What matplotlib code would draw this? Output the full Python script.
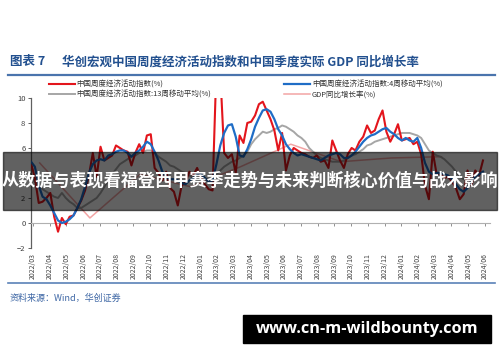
import numpy as np
import pandas as pd
import matplotlib
matplotlib.use("Agg")
import matplotlib.pyplot as plt
from matplotlib.patches import Rectangle
from matplotlib.lines import Line2D

plt.rcParams['font.family'] = ['Noto Sans CJK SC', 'DejaVu Sans']

# monthly category labels of the x axis
month_labels = list(pd.period_range("2022-03", "2024-06", freq="M").strftime("%Y/%m"))

# weekly China economic activity index (%)
activity = [
    4.8, 3.6, 1.6, 1.7, 2.0, 2.4, 0.5, -0.7, 0.4, -0.1,
    0.5, 0.6, 1.2, 1.8, 2.6, 3.8, 5.6, 3.7, 6.1, 5.0,
    5.2, 5.4, 6.2, 6.0, 5.8, 5.7, 4.6, 5.6, 6.3, 5.6,
    7.0, 7.1, 4.4, 4.0, 3.4, 4.1, 2.8, 2.5, 1.4, 3.0,
    3.3, 4.1, 3.8, 4.4, 3.6, 3.1, 2.7, 2.6, 12.5, 12.0,
    5.6, 5.2, 5.5, 4.0, 7.0, 6.4, 8.0, 8.1, 8.6, 9.5,
    9.7, 9.0, 8.3, 7.4, 5.8, 7.2, 4.2, 5.4, 6.0, 5.8,
    5.6, 5.5, 5.3, 5.2, 5.4, 4.9, 5.0, 4.4, 6.6, 5.8,
    5.0, 4.4, 5.5, 6.0, 5.8, 6.5, 6.9, 7.8, 7.2, 7.4,
    8.3, 9.0, 7.3, 6.5, 7.1, 7.9, 6.6, 6.7, 6.8, 6.3,
    6.5, 5.5, 3.0, 1.9, 5.7, 3.9, 4.0, 3.6, 3.7, 3.3,
    2.8, 1.9, 2.3, 4.2, 3.0, 4.2, 3.8, 5.0,
]

# 4-week moving average (%)
activity_ma4 = [
    4.9, 4.5, 3.0, 2.1, 1.9, 1.4, 0.8, 0.2, 0.0, 0.1,
    0.3, 0.6, 1.2, 1.9, 2.9, 4.0, 4.7, 5.0, 5.1, 5.0,
    5.4, 5.5, 5.7, 5.8, 5.8, 5.6, 5.3, 5.6, 5.8, 6.1,
    6.5, 6.3, 5.7, 5.0, 4.1, 3.7, 3.5, 3.5, 3.4, 3.2,
    3.1, 3.4, 3.6, 3.9, 3.9, 3.6, 3.3, 3.4, 4.7, 6.2,
    7.2, 7.8, 7.9, 6.9, 5.4, 5.3, 5.9, 6.7, 7.7, 8.4,
    9.0, 9.1, 8.9, 8.3, 7.5, 7.0, 6.3, 5.9, 5.6, 5.4,
    5.5, 5.4, 5.3, 5.2, 5.1, 5.0, 5.2, 5.4, 5.5, 5.6,
    5.5, 5.2, 5.2, 5.4, 5.7, 6.1, 6.5, 6.8, 7.0, 7.1,
    7.3, 7.5, 7.6, 7.3, 7.1, 6.8, 6.6, 6.8, 6.6, 6.5,
    6.8, 6.0, 4.8, 4.1, 3.9, 4.0, 4.0, 3.9, 3.8, 3.5,
    3.1, 2.7, 2.5, 2.8, 3.4, 3.7, 3.9, 4.1,
]

# 13-week moving average (%)
activity_ma13 = [
    3.6, 3.3, 3.0, 2.7, 2.5, 2.3, 2.1, 2.0, 2.4, 2.0,
    1.7, 1.5, 1.2, 1.2, 1.4, 1.6, 1.8, 2.0, 2.4, 2.9,
    3.4, 3.9, 4.3, 4.7, 4.9, 5.1, 5.3, 5.4, 5.6, 5.7,
    5.8, 5.8, 5.6, 5.3, 5.1, 4.9, 4.6, 4.5, 4.3, 4.1,
    4.0, 3.8, 3.6, 3.5, 3.5, 3.5, 3.5, 3.6, 3.9, 4.2,
    4.5, 4.7, 4.9, 5.0, 5.2, 5.4, 5.7, 6.3, 6.7, 7.0,
    7.3, 7.2, 7.3, 7.5, 7.6, 7.8, 7.7, 7.5, 7.3, 7.0,
    6.8, 6.5, 6.0, 5.7, 5.4, 5.2, 5.1, 5.0, 4.9, 4.9,
    4.9, 5.0, 5.2, 5.4, 5.5, 5.7, 5.9, 6.2, 6.3, 6.5,
    6.6, 6.7, 6.8, 6.9, 7.0, 7.1, 7.2, 7.2, 7.2, 7.1,
    7.0, 6.8, 6.3, 5.8, 5.6, 5.4, 5.3, 5.1, 4.8, 4.5,
    4.1, 3.7, 3.5, 3.4, 3.5, 3.8, 4.0, 4.1,
]

# quarterly real GDP growth (%), 2022Q1 .. 2024Q1
gdp_yoy = [4.8, 0.4, 3.9, 2.9, 4.5, 6.3, 4.9, 5.2, 5.3]


def main():
    # x in months counted from 2022/03
    weeks = np.arange(len(activity)) * 12 / 52 - 0.12
    quarters = np.arange(len(gdp_yoy)) * 3 + 0.4

    fig = plt.figure(figsize=(5, 3.62), dpi=100)
    ax = fig.add_axes([0.062, 0.315, 0.918, 0.4144])

    l_gdp, = ax.plot(quarters, gdp_yoy, color='#f2a4a4', lw=1.1, zorder=2,
                     label='GDP同比增长率(%)')
    l_13, = ax.plot(weeks, activity_ma13, color='#a6a6a6', lw=1.4, zorder=3,
                    label='中国周度经济活动指数:13周移动平均(%)')
    l_act, = ax.plot(weeks, activity, color='#e3151c', lw=1.5, zorder=4,
                     label='中国周度经济活动指数(%)')
    l_4, = ax.plot(weeks, activity_ma4, color='#1f6dc6', lw=1.6, zorder=5,
                   label='中国周度经济活动指数:4周移动平均(%)')

    ax.set_xlim(-0.12, 27.3)
    ax.set_ylim(-2, 10)
    ax.set_yticks(range(-2, 11, 2))
    ax.set_xticks(range(len(month_labels)))
    ax.set_xticklabels(month_labels)

    for side in ['top', 'right']:
        ax.spines[side].set_visible(False)
    ax.spines['bottom'].set_position(('data', 0))
    ax.spines['bottom'].set_color('#b0b0b0')
    ax.spines['bottom'].set_linewidth(0.8)
    ax.spines['left'].set_color('#606060')
    ax.spines['left'].set_linewidth(0.9)
    ax.tick_params(axis='x', direction='out', length=2, width=0.7, color='#909090',
                   labelsize=5, labelcolor='#404040', pad=19.5, labelrotation=90)
    ax.tick_params(axis='y', direction='out', length=2, width=0.7, color='#606060',
                   labelsize=5.5, labelcolor='#404040', pad=2)
    for lbl in ax.get_xticklabels():
        lbl.set_verticalalignment('top')

    ax.legend(handles=[l_act, l_13, l_4, l_gdp], ncol=2, loc='upper left',
              bbox_to_anchor=(0.092, 0.786), bbox_transform=fig.transFigure,
              frameon=False, fontsize=5.4, handlelength=3.4, handletextpad=0.3,
              columnspacing=9.7, labelspacing=0.25, borderaxespad=0,
              labelcolor='#333333')

    # title and rules
    fig.text(10 / 500, 1 - 62 / 362, '图表 7', fontsize=9, weight='bold',
             color='#22508f', va='center')
    fig.text(62 / 500, 1 - 62 / 362, '华创宏观中国周度经济活动指数和中国季度实际 GDP 同比增长率',
             fontsize=9, weight='bold', color='#22508f', va='center')
    fig.add_artist(Line2D([8 / 500, 495 / 500], [1 - 75 / 362] * 2,
                          color='#4a74ad', lw=1.6))
    fig.add_artist(Line2D([8 / 500, 495 / 500], [1 - 283 / 362] * 2,
                          color='#5a82b8', lw=1.2))
    fig.text(10 / 500, 1 - 298 / 362, '资料来源：Wind，华创证券', fontsize=6.5,
             style='italic', color='#3e67a5', va='center')

    # overlay banner
    fig.add_artist(Rectangle((3 / 500, 1 - 210 / 362), 494 / 500, 58 / 362,
                             transform=fig.transFigure, color='black', alpha=0.62,
                             zorder=10))
    fig.text(0.5, 1 - 181 / 362, '从数据与表现看福登西甲赛季走势与未来判断核心价值与战术影响',
             ha='center', va='center', color='white', fontsize=12.3, weight='bold',
             zorder=11)

    # watermark box
    fig.add_artist(Rectangle((243 / 500, 1 - 343 / 362), 248 / 500, 28 / 362,
                             transform=fig.transFigure, color='black', zorder=10))
    fig.text(367 / 500, 1 - 329 / 362, 'www.cn-m-wildbounty.com', ha='center',
             va='center', color='white', fontsize=11.8, weight='bold',
             family=['Open Sans', 'DejaVu Sans'], zorder=11)

    fig.savefig('out.png', dpi=100)


if __name__ == "__main__":
    main()
